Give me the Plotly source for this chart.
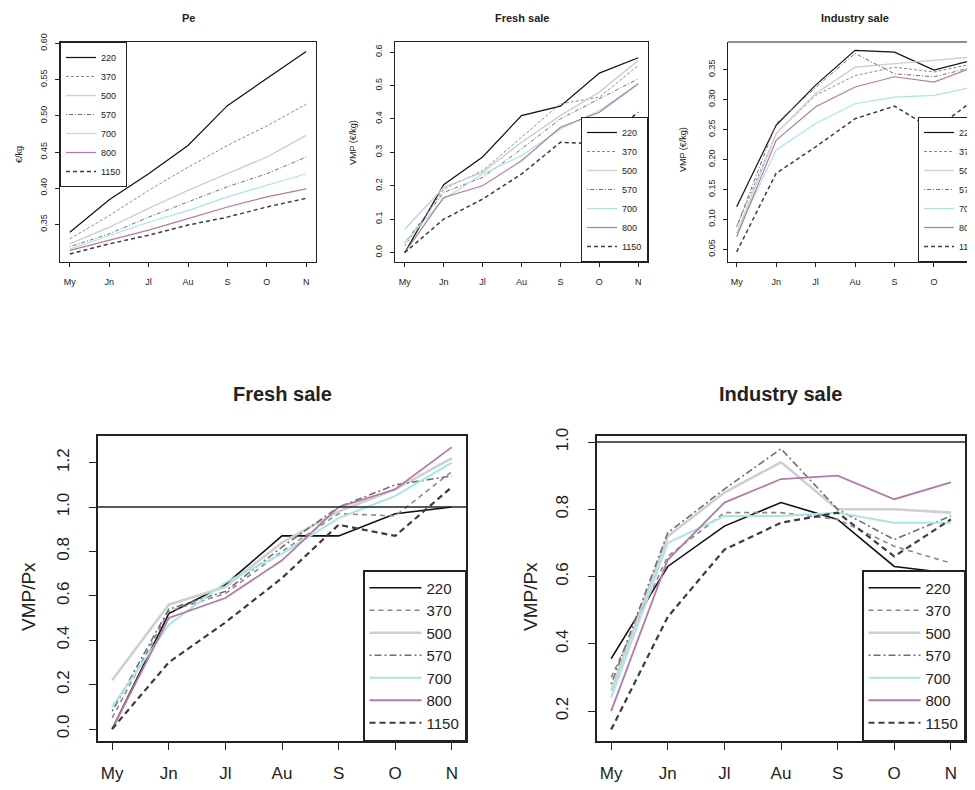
import plotly.graph_objects as go

months = ["My", "Jn", "Jl", "Au", "S", "O", "N"]
series = ["220", "370", "500", "570", "700", "800", "1150"]

# Pe (EUR/kg), one list per series (same order as `series`)
pe_values = [
    [0.339, 0.384, 0.420, 0.459, 0.514, 0.552, 0.589],
    [0.330, 0.362, 0.397, 0.429, 0.459, 0.486, 0.516],
    [0.323, 0.346, 0.372, 0.397, 0.420, 0.443, 0.473],
    [0.319, 0.337, 0.360, 0.381, 0.402, 0.420, 0.443],
    [0.316, 0.335, 0.353, 0.369, 0.388, 0.404, 0.420],
    [0.314, 0.328, 0.342, 0.358, 0.374, 0.388, 0.399],
    [0.309, 0.323, 0.335, 0.349, 0.360, 0.374, 0.386],
]
pe_ticks = [0.35, 0.40, 0.45, 0.50, 0.55, 0.60]

# VMP fresh sale (EUR/kg)
fresh_vmp = [
    [0.000, 0.203, 0.286, 0.410, 0.438, 0.537, 0.583],
    [0.020, 0.190, 0.245, 0.345, 0.445, 0.465, 0.560],
    [0.070, 0.195, 0.240, 0.330, 0.410, 0.480, 0.575],
    [0.030, 0.180, 0.225, 0.310, 0.400, 0.460, 0.520],
    [0.030, 0.160, 0.235, 0.290, 0.370, 0.425, 0.505],
    [0.000, 0.165, 0.200, 0.275, 0.375, 0.420, 0.505],
    [0.000, 0.100, 0.160, 0.235, 0.330, 0.325, 0.420],
]

# VMP industry sale (EUR/kg)
industry_vmp = [
    [0.121, 0.257, 0.324, 0.382, 0.379, 0.349, 0.366],
    [0.088, 0.243, 0.307, 0.340, 0.354, 0.346, 0.360],
    [0.077, 0.243, 0.310, 0.354, 0.360, 0.366, 0.371],
    [0.088, 0.260, 0.320, 0.377, 0.343, 0.338, 0.354],
    [0.077, 0.216, 0.260, 0.293, 0.304, 0.307, 0.321],
    [0.071, 0.232, 0.288, 0.321, 0.338, 0.329, 0.354],
    [0.046, 0.177, 0.221, 0.268, 0.289, 0.249, 0.299],
]

# VMP/Px fresh sale
fresh_ratio = [
    [0.00, 0.52, 0.65, 0.87, 0.87, 0.97, 1.00],
    [0.05, 0.53, 0.61, 0.80, 0.97, 0.96, 1.16],
    [0.22, 0.56, 0.64, 0.84, 0.98, 1.08, 1.22],
    [0.08, 0.54, 0.62, 0.82, 1.00, 1.10, 1.14],
    [0.10, 0.47, 0.66, 0.79, 0.95, 1.05, 1.20],
    [0.00, 0.50, 0.59, 0.76, 1.00, 1.08, 1.27],
    [0.00, 0.30, 0.48, 0.68, 0.92, 0.87, 1.09],
]

# VMP/Px industry sale
industry_ratio = [
    [0.356, 0.63, 0.75, 0.82, 0.77, 0.63, 0.61],
    [0.300, 0.66, 0.79, 0.79, 0.77, 0.69, 0.64],
    [0.260, 0.72, 0.85, 0.94, 0.80, 0.80, 0.79],
    [0.280, 0.73, 0.86, 0.98, 0.80, 0.71, 0.78],
    [0.240, 0.70, 0.78, 0.78, 0.79, 0.76, 0.76],
    [0.200, 0.65, 0.82, 0.89, 0.90, 0.83, 0.88],
    [0.145, 0.48, 0.68, 0.76, 0.79, 0.66, 0.77],
]

colors = ["#111111", "#8a8a8a", "#cfcfcf", "#707070", "#a8e6e6", "#b877a6", "#3c3c3c"]
widths_big = [1.6, 1.6, 2.6, 1.6, 2.0, 1.8, 2.2]
widths_small = [1.2, 1.0, 1.4, 1.0, 1.2, 1.2, 1.5]
dashes_big = ["solid", "5px,4px", "solid", "2px,3px,7px,3px", "solid", "solid", "6px,4px"]
dashes_small = ["solid", "3px,2px", "solid", "1px,2px,4px,2px", "solid", "solid", "4px,3px"]

# page is 975x790; the html body has an 8px margin, so the figure starts at (8, 8)
OFF = 8
W, H = 975 - OFF, 790 - OFF
FONT = "Liberation Sans, Arial, Helvetica, sans-serif"


def fx(px):
    return (px - OFF) / W


def fy(py):
    return 1 - (py - OFF) / H


fig = go.Figure()

panels = [
    (pe_values, "x", "y", "legend", False),
    (fresh_vmp, "x2", "y2", "legend2", False),
    (industry_vmp, "x3", "y3", "legend3", False),
    (fresh_ratio, "x4", "y4", "legend4", True),
    (industry_ratio, "x5", "y5", "legend5", True),
]

for data, xa, ya, lg, big in panels:
    for i, name in enumerate(series):
        fig.add_trace(go.Scatter(
            x=months, y=data[i], name=name, mode="lines",
            xaxis=xa, yaxis=ya, legend=lg,
            line=dict(color=colors[i],
                      width=(widths_big if big else widths_small)[i],
                      dash=(dashes_big if big else dashes_small)[i]),
            showlegend=True, hoverinfo="skip",
        ))


def xax(domain, rng, big, mirror=True):
    return dict(
        domain=domain, range=rng, type="category",
        showline=True, mirror=mirror, linecolor="#222", linewidth=1.5 if big else 1.2,
        ticks="outside", ticklen=7 if big else 4, tickcolor="#222", tickwidth=1,
        showgrid=False, zeroline=False,
        tickfont=dict(family=FONT, size=17 if big else 9, color="#222"),
        ticklabelstandoff=9 if big else 7,
        fixedrange=True,
    )


def yax(domain, rng, dtick, tick0, fmt, big, anchor, mirror=True):
    return dict(
        domain=domain, range=rng, dtick=dtick, tick0=tick0, tickformat=fmt,
        showline=True, mirror=mirror, linecolor="#222", linewidth=1.5 if big else 1.2,
        ticks="outside", ticklen=7 if big else 4, tickcolor="#222", tickwidth=1,
        showgrid=False, zeroline=False, tickangle=-90, anchor=anchor,
        tickfont=dict(family=FONT, size=17 if big else 9, color="#222"),
        ticklabelstandoff=13 if big else 4,
        fixedrange=True,
    )


top_y = [fy(262), fy(42)]
bot_y = [fy(741), fy(436)]

fig.update_layout(
    width=W, height=H,
    margin=dict(l=0, r=0, t=0, b=0, autoexpand=False),
    paper_bgcolor="white", plot_bgcolor="white",
    xaxis=xax([fx(60), fx(316)], [-0.25, 6.25], False) | dict(anchor="y"),
    yaxis=yax(top_y, [0.298, 0.602], 0.05, 0.35, ".2f", False, "x")
    | dict(tickmode="array", tickvals=pe_ticks),
    xaxis2=xax([fx(395), fx(648)], [-0.25, 6.25], False) | dict(anchor="y2"),
    yaxis2=yax(top_y, [-0.028, 0.63], 0.1, 0.0, ".1f", False, "x2"),
    xaxis3=xax([fx(728), 1.0], [-0.22, 6.04], False, mirror=False) | dict(anchor="y3"),
    yaxis3=yax(top_y, [0.029, 0.396], 0.05, 0.05, ".2f", False, "x3", mirror=False),
    xaxis4=xax([fx(98), fx(466)], [-0.25, 6.25], True) | dict(anchor="y4"),
    yaxis4=yax(bot_y, [-0.054, 1.32], 0.2, 0.0, ".1f", True, "x4"),
    xaxis5=xax([fx(597), fx(965)], [-0.25, 6.25], True) | dict(anchor="y5"),
    yaxis5=yax(bot_y, [0.111, 1.018], 0.2, 0.2, ".1f", True, "x5"),
    showlegend=True,
)

small_legend = dict(bgcolor="white", bordercolor="#222", borderwidth=1,
                    font=dict(family=FONT, size=9, color="#222"),
                    itemclick=False, itemdoubleclick=False, tracegroupgap=0)
big_legend = dict(bgcolor="white", bordercolor="#222", borderwidth=1.5,
                  font=dict(family=FONT, size=15, color="#222"),
                  itemclick=False, itemdoubleclick=False, tracegroupgap=0,
                  itemwidth=52)

fig.update_layout(
    legend=small_legend | dict(x=fx(60), y=fy(42), xanchor="left", yanchor="top"),
    legend2=small_legend | dict(x=fx(648), y=fy(262), xanchor="right", yanchor="bottom"),
    legend3=small_legend | dict(x=fx(918), y=fy(262), xanchor="left", yanchor="bottom"),
    legend4=big_legend | dict(x=fx(466), y=fy(741), xanchor="right", yanchor="bottom"),
    legend5=big_legend | dict(x=fx(965), y=fy(741), xanchor="right", yanchor="bottom"),
)

# top frame line for the cut-off top-right panel
fig.add_shape(type="line", xref="x3 domain", yref="y3 domain", x0=0, x1=1, y0=1, y1=1,
              line=dict(color="#222", width=1.2))
# reference line VMP/Px = 1
for xr, yr in (("x4 domain", "y4"), ("x5 domain", "y5")):
    fig.add_shape(type="line", xref=xr, yref=yr, x0=0, x1=1, y0=1, y1=1,
                  line=dict(color="#222", width=1.6), layer="above")

titles = [
    ("Pe", 188, 18, 11), ("Fresh sale", 522, 18, 11), ("Industry sale", 855, 18, 11),
    ("Fresh sale", 282, 394, 20), ("Industry sale", 780, 394, 20),
]
for t, x, y, s in titles:
    fig.add_annotation(text=f"<b>{t}</b>", x=fx(x), y=fy(y), xref="paper", yref="paper",
                       showarrow=False, xanchor="center", yanchor="middle",
                       font=dict(family=FONT, size=s, color="#222"))

ytitles = [
    ("€/kg", 19, 155, 9), ("VMP (€/kg)", 353, 143, 9), ("VMP (€/kg)", 683, 150, 9),
    ("VMP/Px", 28, 597, 19), ("VMP/Px", 530, 597, 19),
]
for t, x, y, s in ytitles:
    fig.add_annotation(text=t, x=fx(x), y=fy(y), xref="paper", yref="paper",
                       showarrow=False, xanchor="center", yanchor="middle", textangle=-90,
                       font=dict(family=FONT, size=s, color="#222"))

fig.write_html("out.html")
